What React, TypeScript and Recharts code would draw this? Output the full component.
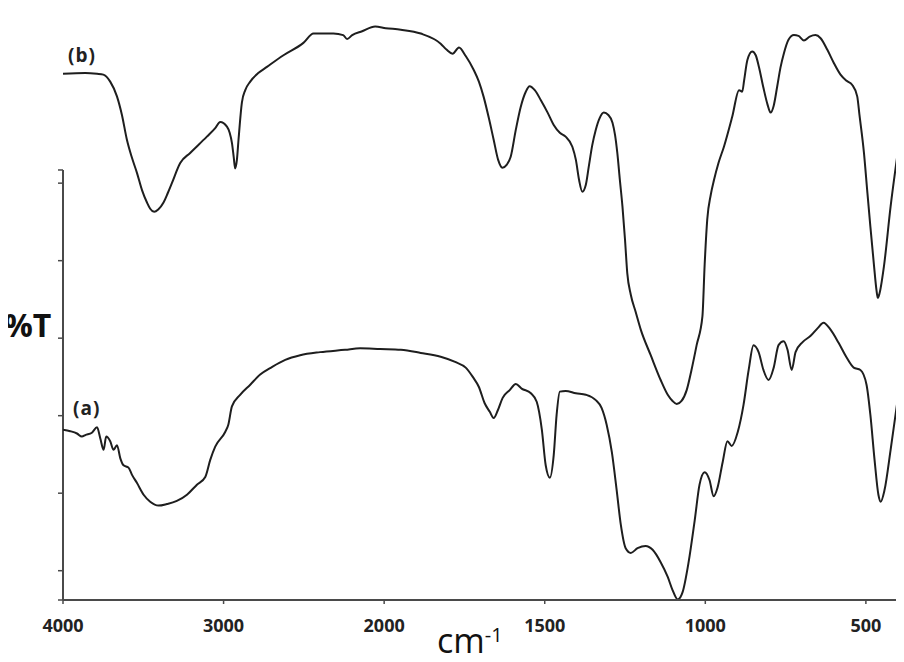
import React from "react";
import { LineChart, Line, XAxis, YAxis, ReferenceLine } from "recharts";

// Wavenumber tick marks (cm-1) and their labels
const xTickWavenumbers = [4000, 3000, 2000, 1500, 1000, 500, 400];
const xTickLabels = ["4000", "3000", "2000", "1500", "1000", "500", ""];
// %T tick marks (unlabelled)
const yTickValues = [-3.78, 0, 10, 20, 30, 40, 50, 51.7];
const yDomain: [number, number] = [-3.78, 71.05];
const yAxisTop = 51.7;

// Spectrum (b)
const waveB = [
  4000, 3861, 3788, 3749, 3706, 3664, 3633, 3602, 3571, 3539,
  3508, 3477, 3457, 3432, 3407, 3374, 3348, 3322, 3270, 3208,
  3104, 3052, 3021, 2979, 2962, 2948, 2937, 2928, 2917, 2907,
  2886, 2865, 2834, 2784, 2730, 2627, 2503, 2440, 2316, 2255,
  2231, 2199, 2137, 2056, 1995, 1948, 1886, 1824, 1805, 1787,
  1767, 1746, 1721, 1705, 1690, 1674, 1659, 1645, 1632, 1618,
  1606, 1590, 1575, 1559, 1547, 1531, 1512, 1491, 1472, 1453,
  1435, 1414, 1403, 1393, 1383, 1372, 1363, 1352, 1341, 1329,
  1316, 1302, 1289, 1281, 1274, 1266, 1258, 1250, 1243, 1232,
  1217, 1201, 1170, 1139, 1117, 1102, 1089, 1074, 1058, 1043,
  1027, 1009, 1002, 994, 983, 973, 959, 942, 916, 895,
  885, 879, 869, 854, 843, 833, 819, 806, 797, 787,
  776, 766, 755, 741, 724, 710, 693, 675, 657, 641,
  620, 601, 579, 560, 543, 527, 520, 506, 496, 486,
  475, 467, 463, 458, 444, 423, 402,
];
const transB = [
  64.1, 64.2, 64.1, 64.0, 63.1, 61.2, 58.8, 55.6, 53.3, 51.3,
  49.1, 47.5, 46.7, 46.3, 46.6, 47.5, 48.7, 50.0, 52.6, 53.9,
  56.0, 57.1, 57.9, 57.3, 56.5, 55.2, 53.4, 51.9, 53.0, 55.6,
  60.4, 62.0, 63.1, 64.2, 65.0, 66.5, 68.1, 69.3, 69.3, 69.1,
  68.6, 69.1, 69.6, 70.2, 70.0, 69.8, 69.3, 68.0, 67.2, 66.7,
  67.5, 66.4, 64.6, 63.1, 61.1, 58.4, 55.6, 53.0, 52.0, 52.4,
  53.4, 56.9, 59.8, 61.8, 62.5, 62.0, 60.7, 59.1, 57.5, 56.5,
  56.0, 54.7, 53.0, 50.4, 48.9, 49.8, 52.1, 54.9, 56.9, 58.4,
  59.1, 58.8, 57.8, 56.2, 53.9, 50.4, 47.0, 42.7, 38.4, 35.6,
  33.4, 31.1, 27.8, 24.6, 22.7, 21.9, 21.5, 21.9, 23.3, 25.9,
  29.1, 32.8, 39.5, 45.3, 48.5, 50.4, 52.6, 54.7, 58.6, 62.0,
  61.8, 63.3, 65.9, 67.0, 66.5, 65.0, 62.3, 60.1, 59.1, 60.0,
  62.5, 64.9, 66.8, 68.5, 69.1, 69.0, 68.4, 68.9, 69.1, 68.7,
  67.2, 65.6, 64.0, 63.2, 62.7, 61.2, 58.8, 53.9, 49.1, 44.4,
  39.5, 36.2, 35.2, 35.7, 39.2, 47.0, 53.6,
];

// Spectrum (a)
const waveA = [
  4000, 3955, 3913, 3882, 3861, 3820, 3788, 3768, 3747, 3731,
  3706, 3685, 3664, 3643, 3623, 3592, 3571, 3539, 3498, 3457,
  3405, 3353, 3291, 3228, 3166, 3114, 3083, 3052, 2990, 2971,
  2948, 2897, 2834, 2772, 2697, 2616, 2523, 2399, 2243, 2150,
  2025, 1948, 1886, 1824, 1777, 1746, 1724, 1705, 1687, 1671,
  1659, 1646, 1631, 1609, 1590, 1572, 1543, 1525, 1509, 1497,
  1484, 1472, 1463, 1453, 1435, 1403, 1372, 1341, 1323, 1307,
  1291, 1276, 1263, 1248, 1232, 1211, 1186, 1164, 1139, 1117,
  1102, 1086, 1071, 1052, 1033, 1018, 1002, 987, 974, 962,
  946, 931, 918, 899, 881, 865, 850, 834, 819, 803,
  787, 772, 756, 744, 731, 719, 697, 672, 650, 632,
  610, 585, 560, 538, 517, 498, 486, 473, 461, 454,
  442, 423, 402,
];
const transA = [
  18.2, 18.0, 17.7, 17.3, 17.5, 17.8, 18.5, 17.1, 15.6, 17.3,
  16.7, 15.6, 16.2, 14.5, 13.6, 13.3, 12.4, 11.3, 9.8, 8.9,
  8.4, 8.6, 9.0, 9.8, 11.1, 12.1, 14.3, 16.0, 17.9, 18.8,
  21.2, 22.7, 24.0, 25.3, 26.3, 27.2, 27.8, 28.2, 28.5, 28.7,
  28.6, 28.5, 28.1, 27.6, 26.9, 26.2, 25.0, 23.7, 21.6, 20.5,
  19.7, 20.7, 22.3, 23.3, 24.1, 23.5, 22.9, 21.8, 18.2, 13.6,
  12.0, 14.9, 20.1, 23.1, 23.2, 22.9, 22.7, 22.0, 21.0, 18.8,
  15.3, 10.4, 5.9, 2.9, 2.3, 2.9, 3.2, 2.7, 1.1, -0.8,
  -2.5, -3.7, -2.8, 1.1, 6.5, 11.1, 12.7, 11.7, 9.6, 10.7,
  14.0, 16.7, 16.1, 17.9, 21.4, 25.9, 29.1, 28.2, 25.9, 24.6,
  26.2, 29.1, 29.6, 28.5, 25.9, 28.2, 29.5, 30.3, 31.3, 32.0,
  31.1, 29.4, 27.5, 26.2, 25.9, 24.0, 20.1, 14.3, 9.8, 8.9,
  10.4, 15.6, 21.8,
];

// FTIR abscissa with a scale change at 2000 cm-1 (twice as expanded below 2000)
const toAxis = (wn: number) => (wn >= 2000 ? (4000 - wn) / 1000 : 2 + (2000 - wn) / 500);

const seriesA = waveA.map((w, i) => ({ x: toAxis(w), t: transA[i] }));
const seriesB = waveB.map((w, i) => ({ x: toAxis(w), t: transB[i] }));
const xTicks = xTickWavenumbers.map(toAxis);
const xDomain: [number, number] = [toAxis(4000), toAxis(400)];

const AXIS = "#4a4a4a";
const INK = "#1e1e1e";
const FONT = "'Open Sans', 'DejaVu Sans', sans-serif";

export default function App() {
  const W = 896;
  const H = 654;
  return (
    <div style={{ position: "relative", width: W, height: H, background: "#fff" }}>
      <LineChart width={W} height={H} margin={{ top: 12, right: 6, bottom: 0, left: 0 }}>
        <XAxis
          dataKey="x"
          type="number"
          domain={xDomain}
          allowDataOverflow
          ticks={xTicks}
          interval={0}
          tickFormatter={(v: number, i: number) => xTickLabels[i] ?? ""}
          height={62}
          axisLine={{ stroke: AXIS, strokeWidth: 2 }}
          tickLine={{ stroke: AXIS, strokeWidth: 1.5 }}
          tickSize={4}
          tickMargin={15}
          tick={{ fill: "#222", fontSize: 18, fontWeight: 700, fontFamily: FONT }}
        />
        <YAxis
          type="number"
          domain={yDomain}
          allowDataOverflow
          ticks={yTickValues}
          interval={0}
          width={55}
          axisLine={false}
          tickLine={{ stroke: AXIS, strokeWidth: 1.5 }}
          tickSize={5}
          tickFormatter={() => ""}
        />
        <ReferenceLine
          segment={[
            { x: xDomain[0], y: yDomain[0] },
            { x: xDomain[0], y: yAxisTop },
          ]}
          stroke={AXIS}
          strokeWidth={2}
          ifOverflow="visible"
        />
        <Line
          data={seriesB}
          dataKey="t"
          type="monotone"
          stroke={INK}
          strokeWidth={2}
          dot={false}
          isAnimationActive={false}
        />
        <Line
          data={seriesA}
          dataKey="t"
          type="monotone"
          stroke={INK}
          strokeWidth={2}
          dot={false}
          isAnimationActive={false}
        />
      </LineChart>
      <svg
        width={904}
        height={662}
        style={{ position: "absolute", left: -8, top: -8, pointerEvents: "none" }}
      >
        <text x={4} y={337} fontFamily={FONT} fontWeight={700} fontSize={32} fill="#111">
          %T
        </text>
        <text x={68} y={62} fontFamily={FONT} fontWeight={700} fontSize={19} fill="#222" letterSpacing={1}>
          (b)
        </text>
        <text x={73} y={415} fontFamily={FONT} fontWeight={700} fontSize={19} fill="#222" letterSpacing={1}>
          (a)
        </text>
        <text x={437} y={653} fontFamily={FONT} fontWeight={500} fontSize={34} fill="#111">
          cm
          <tspan dy={-11} fontSize={20}>
            -1
          </tspan>
        </text>
      </svg>
    </div>
  );
}
